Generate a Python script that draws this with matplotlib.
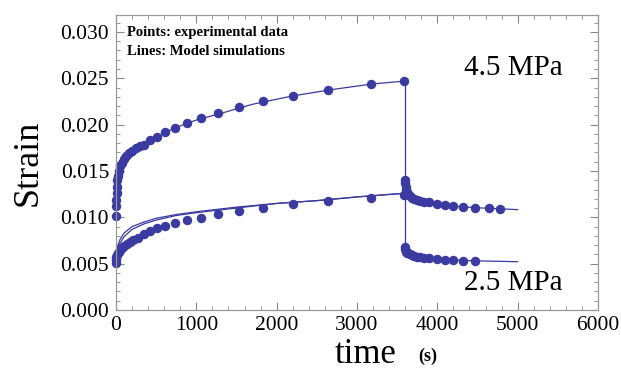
import matplotlib
matplotlib.use("Agg")
import matplotlib.pyplot as plt
from matplotlib.ticker import MultipleLocator

# ---- data: 4.5 MPa experimental points ----
t_hi = [0, 2, 4, 8, 12, 17, 25, 35, 50, 70, 95, 125, 160, 200, 250, 300, 352, 423, 506,
        614, 734, 888, 1062, 1270, 1531, 1834, 2199, 2643, 3178, 3585]
s_hi = [0.0101, 0.0112, 0.0119, 0.0126, 0.0133, 0.0140, 0.0145, 0.0150, 0.0155, 0.0159,
        0.0163, 0.0166, 0.0169, 0.0172, 0.0175, 0.0177, 0.01784, 0.01831, 0.01870,
        0.01917, 0.01967, 0.02018, 0.02072, 0.02122, 0.02187, 0.02252, 0.02309, 0.02374,
        0.02439, 0.02474]
t_hi_rec = [3600, 3603, 3608, 3615, 3625, 3640, 3660, 3685, 3715, 3750, 3790, 3840, 3900,
            3991, 4095, 4199, 4314, 4465, 4647, 4780]
s_hi_rec = [0.0140, 0.0137, 0.0133, 0.0130, 0.0127, 0.0125, 0.0123, 0.0121, 0.0120, 0.0119,
            0.0118, 0.0117, 0.01160, 0.01144, 0.01130, 0.01122, 0.01115, 0.01104, 0.01097,
            0.01090]

# ---- data: 2.5 MPa experimental points ----
t_lo = [0, 2, 5, 10, 20, 35, 50, 75, 100, 133, 170, 216, 278, 352, 423, 506, 614, 734,
        888, 1062, 1270, 1531, 1834, 2199, 2643, 3178, 3590]
s_lo = [0.0051, 0.0054, 0.0057, 0.0059, 0.0061, 0.0063, 0.0065, 0.0067, 0.0069, 0.0071,
        0.0073, 0.0075, 0.0078, 0.0082, 0.0085, 0.0088, 0.00906, 0.00935, 0.00968,
        0.00996, 0.01032, 0.01065, 0.01104, 0.01140, 0.01176, 0.01212, 0.0124]
t_lo_rec = [3600, 3603, 3608, 3615, 3625, 3640, 3660, 3685, 3715, 3750, 3790, 3840, 3900,
            3991, 4095, 4199, 4314, 4465]
s_lo_rec = [0.0068, 0.0066, 0.0064, 0.0063, 0.0062, 0.0061, 0.0060, 0.0059, 0.0058, 0.00575,
            0.0057, 0.00565, 0.0056, 0.00547, 0.00540, 0.00536, 0.00532, 0.00529]

# ---- model simulation lines ----
tm_hi = [0, 5, 15, 30, 60, 100, 150, 220, 300, 400, 550, 750, 1000, 1300, 1700, 2200,
         2700, 3200, 3600]
sm_hi = [0.0112, 0.0123, 0.0137, 0.0147, 0.0156, 0.0163, 0.0168, 0.0173, 0.0177, 0.0182,
         0.0189, 0.0197, 0.0205, 0.0212, 0.0222, 0.0231, 0.0238, 0.0244, 0.0247]
t_unload = [3600, 3600]
s_unload = [0.0247, 0.0068]
tm_hi_rec = [3600, 3610, 3630, 3660, 3700, 3760, 3850, 4000, 4200, 4500, 4800, 5000]
sm_hi_rec = [0.0140, 0.0131, 0.0126, 0.0122, 0.0119, 0.0117, 0.0115, 0.01140, 0.01120,
             0.01103, 0.01091, 0.01083]
tm_lo = [0, 20, 50, 100, 200, 350, 500, 750, 1000, 1500, 2000, 2500, 3000, 3600]
sm_lo = [0.0060, 0.0069, 0.0076, 0.0083, 0.0090, 0.0095, 0.0099, 0.0103, 0.0106, 0.0111,
         0.0115, 0.0118, 0.0122, 0.0126]
sm_lo2 = [0.0058, 0.0065, 0.0072, 0.0079, 0.0087, 0.0093, 0.0097, 0.0102, 0.0105, 0.0110,
          0.0115, 0.0118, 0.0122, 0.0126]
tm_lo_rec = [3600, 3610, 3630, 3660, 3700, 3760, 3850, 4000, 4200, 4500, 4800, 5000]
sm_lo_rec = [0.0068, 0.0063, 0.0060, 0.0058, 0.0057, 0.0056, 0.0055, 0.00545, 0.00537,
             0.00530, 0.00525, 0.00521]

color = "#3A3AA0"
plt.rcParams['font.family'] = ['Liberation Serif', 'DejaVu Serif']

fig = plt.figure(figsize=(6.21, 3.80), dpi=100)
ax = fig.add_axes([116 / 621, 70 / 380, 482 / 621, 295 / 380])

lw = 0.9
ax.plot(tm_hi, sm_hi, color=color, lw=lw)
ax.plot(t_unload, s_unload, color=color, lw=lw)
ax.plot(tm_hi_rec, sm_hi_rec, color=color, lw=lw)
ax.plot(tm_lo, sm_lo, color=color, lw=lw)
ax.plot(tm_lo, sm_lo2, color=color, lw=lw)
ax.plot(tm_lo_rec, sm_lo_rec, color=color, lw=lw)

ms = 5.8
for tt, ss in [(t_hi, s_hi), (t_hi_rec, s_hi_rec), (t_lo, s_lo), (t_lo_rec, s_lo_rec)]:
    ax.plot(tt, ss, 'o', color=color, ms=ms, mec=color, clip_on=False)

ax.set_xlim(0, 6000)
ax.set_ylim(0, 0.03183)
ax.xaxis.set_major_locator(MultipleLocator(1000))
ax.xaxis.set_minor_locator(MultipleLocator(200))
ax.yaxis.set_major_locator(MultipleLocator(0.005))
ax.yaxis.set_minor_locator(MultipleLocator(0.001))
ax.yaxis.set_major_formatter(plt.FuncFormatter(lambda v, p: f"{v:.3f}"))
ax.tick_params(which='both', direction='in', top=True, right=True, color='#888888',
               labelsize=15.5, labelcolor='black')
ax.tick_params(which='major', length=6, width=0.8)
ax.tick_params(which='minor', length=3, width=0.6)
ax.tick_params(axis='x', pad=4)
ax.tick_params(axis='y', pad=5)
for sp in ax.spines.values():
    sp.set_color('#999999')
    sp.set_linewidth(0.9)

ax.text(0.0228, 0.939, "Points: experimental data", transform=ax.transAxes,
        fontsize=10.5, fontweight='bold', va='center', ha='left')
ax.text(0.0228, 0.875, "Lines: Model simulations", transform=ax.transAxes,
        fontsize=10.5, fontweight='bold', va='center', ha='left')
ax.text(0.824, 0.820, "4.5 MPa", transform=ax.transAxes, fontsize=21,
        va='center', ha='center')
ax.text(0.824, 0.0915, "2.5 MPa", transform=ax.transAxes, fontsize=21,
        va='center', ha='center')

fig.text(0.045, 0.571, "Strain", rotation=90, fontsize=26, va='center', ha='center')
fig.text(0.588, 0.066, "time", fontsize=25, va='center', ha='center')
fig.text(0.689, 0.062, "(s)", fontsize=13, fontweight='bold', va='center', ha='center')

fig.savefig("out.png", dpi=100)
